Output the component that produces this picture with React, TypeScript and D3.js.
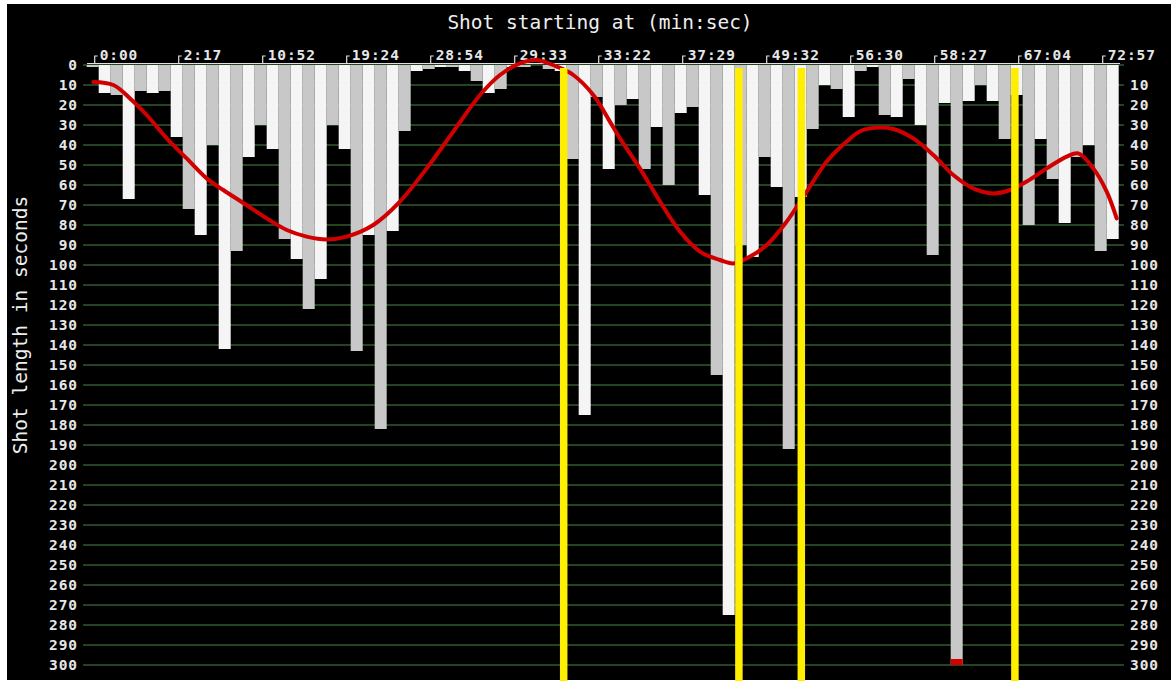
import React from 'react';
import * as d3 from 'd3';

// Shot lengths in seconds, one per shot, in order
const shotLengths = [
  1, 14, 15, 67, 13, 14, 13, 36, 72, 85,
  40, 142, 93, 46, 30, 42, 87, 97, 122, 107,
  30, 42, 143, 85, 182, 83, 33, 3, 2, 1,
  1, 3, 8, 14, 12, 1, 1, 0, 2, 3,
  47, 175, 16, 52, 20, 17, 52, 31, 60, 24,
  21, 65, 155, 275, 90, 96, 46, 61, 192, 66,
  32, 10, 12, 26, 3, 1, 25, 26, 7, 30,
  95, 19, 312, 18, 10, 18, 37, 15, 80, 37,
  57, 79, 46, 40, 93, 87,
];

// Shot indices where time labels are shown, and their labels
const tickShots = [0, 7, 14, 21, 28, 35, 42, 49, 56, 63, 70, 77, 84];
const tickLabels = [
  '0:00', '2:17', '10:52', '19:24', '28:54', '29:33', '33:22',
  '37:29', '49:32', '56:30', '58:27', '67:04', '72:57',
];

// Y axis ticks (seconds)
const yTicks = d3.range(0, 301, 10);

// Scene / chapter breaks, in shot-index units
const sceneBreaks = [39.75, 54.35, 59.55, 77.35];

// Smoothed trend line (shot-index position, seconds)
const trendPos = [
  0.55, 2.22, 3.61, 5.0, 6.67, 8.33, 10.0, 11.38, 13.05, 15.0,
  16.67, 18.33, 20.0, 21.67, 23.88, 26.1, 28.33, 30.55, 32.78, 34.44,
  36.1, 37.5, 39.17, 40.55, 42.22, 43.6, 44.44, 46.1, 47.78, 49.44,
  51.1, 52.78, 53.88, 55.0, 56.67, 58.33, 60.0, 61.67, 63.33, 64.5,
  66.1, 67.22, 68.88, 70.55, 72.22, 73.88, 75.55, 76.94, 78.33, 80.0,
  81.67, 82.63, 83.88, 85.0, 85.83,
];
const trendVal = [
  8.5, 10, 16.7, 25, 36.7, 46.7, 56.7, 62.5, 69, 76.7,
  82.5, 85.8, 87.2, 85.8, 80, 68.3, 51.7, 33.3, 15, 5,
  -0.8, -2.5, 0.8, 5, 15, 28.3, 36.7, 51.7, 68.3, 83.3,
  93.3, 97.5, 99.2, 96.7, 90, 78.3, 63.3, 48.3, 38.3, 33,
  31.3, 32, 36.7, 45, 55, 61.7, 64.2, 62.5, 58.3, 51.7,
  45.8, 44.2, 51.7, 63.3, 76.7,
];

const FONT = '"DejaVu Sans Mono", monospace';

export default function App() {
  const W = 1171;
  const H = 681;
  const yMax = 300;
  const x = d3.scaleLinear().domain([0, shotLengths.length]).range([86.7, 1118.7]);
  const y = d3.scaleLinear().domain([0, yMax]).range([65, 665]);

  const line = d3
    .line<number>()
    .x((_, i) => x(trendPos[i]))
    .y((d) => y(d))
    .curve(d3.curveCatmullRom.alpha(0.5));

  const trendPath = line(trendVal) || '';

  return (
    <svg
      width={W}
      height={H}
      style={{ position: 'absolute', left: 0, top: 0, display: 'block' }}
    >
      <rect x={0} y={0} width={W} height={H} fill="#ffffff" />
      <rect x={7} y={4} width={W - 7} height={H - 5} fill="#000000" />

      {/* title */}
      <text
        x={600}
        y={29}
        fill="#eeeeee"
        fontFamily={FONT}
        fontSize={19.5}
        textAnchor="middle"
      >
        Shot starting at (min:sec)
      </text>

      {/* y label */}
      <text
        transform={`translate(27,${325}) rotate(-90)`}
        fill="#eeeeee"
        fontFamily={FONT}
        fontSize={19.5}
        textAnchor="middle"
      >
        Shot length in seconds
      </text>

      {/* gridlines */}
      {yTicks.map((t) => (
        <line
          key={'g' + t}
          x1={83}
          x2={1124}
          y1={y(t)}
          y2={y(t)}
          stroke="#2f5a2f"
          strokeWidth={1.6}
        />
      ))}

      {/* left labels */}
      {yTicks.map((t) => (
        <text
          key={'l' + t}
          x={78}
          y={y(t)}
          dy="0.36em"
          fill="#e6e6e6"
          fontFamily={FONT}
          fontWeight="bold"
          fontSize={14.5}
          letterSpacing={0.9}
          textAnchor="end"
        >
          {t}
        </text>
      ))}

      {/* right labels */}
      {yTicks
        .filter((t) => t > 0)
        .map((t) => (
          <text
            key={'r' + t}
            x={1130}
            y={y(t)}
            dy="0.36em"
            fill="#e6e6e6"
            fontFamily={FONT}
            fontWeight="bold"
            fontSize={14.5}
            letterSpacing={0.9}
            textAnchor="start"
          >
            {t}
          </text>
        ))}

      {/* bars */}
      {shotLengths.map((v, i) => {
        const vv = Math.min(v, yMax);
        const x0 = x(i);
        const w = x(i + 1) - x(i);
        return (
          <g key={'b' + i}>
            <rect
              x={x0}
              y={y(0)}
              width={w}
              height={Math.max(0, y(vv) - y(0))}
              fill={i % 2 === 0 ? '#c8c8c8' : '#f5f5f5'}
            />
            {v > yMax && (
              <rect
                x={x0}
                y={y(yMax - 3)}
                width={w}
                height={y(yMax) - y(yMax - 3)}
                fill="#d40000"
              />
            )}
          </g>
        );
      })}

      {/* top axis */}
      <line x1={87} x2={1120} y1={63.5} y2={63.5} stroke="#e0e0e0" strokeWidth={1.2} />
      {tickShots.map((s, k) => {
        const tx = x(s + 0.5) + 2;
        return (
          <g key={'t' + s}>
            <path
              d={`M${tx},63.5 V56 H${tx + 3}`}
              fill="none"
              stroke="#e0e0e0"
              strokeWidth={1.2}
            />
            <text
              x={tx + 5}
              y={60}
              fill="#e6e6e6"
              fontFamily={FONT}
              fontWeight="bold"
              fontSize={14.5}
              letterSpacing={0.9}
            >
              {tickLabels[k]}
            </text>
          </g>
        );
      })}

      {/* trend */}
      <path d={trendPath} fill="none" stroke="#d00000" strokeWidth={4} strokeLinejoin="round" strokeLinecap="round" />

      {/* scene breaks */}
      {sceneBreaks.map((s, k) => (
        <rect
          key={'s' + k}
          x={x(s) - 3.75}
          y={68}
          width={7.5}
          height={H - 68}
          fill="#ffee00"
        />
      ))}
    </svg>
  );
}
